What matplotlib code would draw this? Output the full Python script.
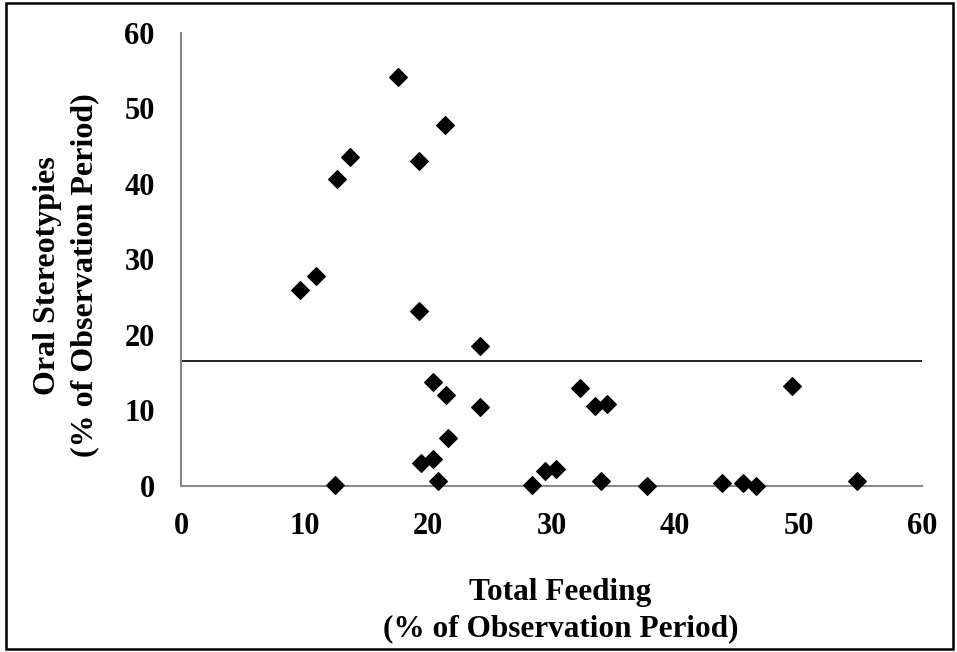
import matplotlib.pyplot as plt
from matplotlib.patches import Rectangle

# total feeding (% of observation period) vs oral stereotypies
feeding = [17.6, 21.4, 13.7, 19.3, 12.6, 10.9, 9.6, 19.3,
           24.2, 20.4, 21.5, 24.2, 21.6, 19.4, 20.4, 20.8, 12.5, 28.4, 29.5, 30.4,
           32.3, 33.5, 34.5, 49.5, 34.0, 37.7, 43.8, 45.5, 46.6, 54.7]
stereo = [54.2, 47.8, 43.6, 43.1, 40.7, 27.8, 25.9, 23.2,
          18.6, 13.8, 12.1, 10.4, 6.4, 3.1, 3.6, 0.7, 0.1, 0.1, 2.0, 2.3,
          13.0, 10.6, 10.8, 13.3, 0.6, 0.05, 0.35, 0.35, 0.0, 0.6]
ref_level = 16.5

plt.rcParams['font.family'] = ['Liberation Serif', 'DejaVu Serif']
plt.rcParams['font.weight'] = 'bold'

fig = plt.figure(figsize=(9.57, 6.52), dpi=100)
ax = fig.add_axes([0.1891, 0.2546, 0.7743, 0.6948])

ax.scatter(feeding, stereo, marker='D', s=80, color='black', zorder=3, clip_on=False)
ax.axhline(ref_level, color='black', lw=1.2)

ax.set_xlim(0, 60)
ax.set_ylim(0, 60)
ax.set_xticks(range(0, 61, 10))
ax.set_yticks(range(0, 61, 10))
ax.tick_params(length=0, labelsize=22, pad=19)
for lab in ax.get_xticklabels() + ax.get_yticklabels():
    lab.set_fontweight('bold')

for s in ['top', 'right']:
    ax.spines[s].set_visible(False)
for s in ['left', 'bottom']:
    ax.spines[s].set_color('#898989')
    ax.spines[s].set_linewidth(1.5)

ax.set_xlabel('Total Feeding\n(% of Observation Period)', fontsize=22.5,
              fontweight='bold', labelpad=26, linespacing=1.35)
ax.set_ylabel('Oral Stereotypies\n(% of Observation Period)', fontsize=23,
              fontweight='bold', labelpad=18, linespacing=1.35)
# excel puts the titles a bit off centre
ax.xaxis.label.set_x(0.512)
ax.yaxis.label.set_y(0.465)

# outer frame
fig.patches.append(Rectangle((0.006, 0.004), 0.99, 0.992, transform=fig.transFigure,
                             fill=False, edgecolor='black', lw=1.8))

fig.savefig('out.png', dpi=100)
